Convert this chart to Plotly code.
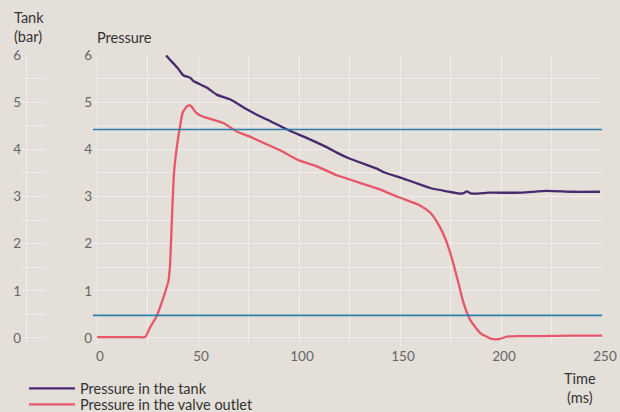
import plotly.graph_objects as go

# ---- data ----
tank_t = [34.2, 36.1, 39.8, 42.7, 46.0, 47.7, 54.3, 59.2, 65.8, 74.1, 80.7, 85.6, 94.7,
          105.4, 115.3, 118.7, 125.2, 138.5, 141.7, 151.6, 161.5, 164.9, 173.1, 179.7,
          181.5, 183.0, 185.5, 194.6, 210.0, 222.6, 235.0, 249.0]
tank_p = [5.99, 5.90, 5.73, 5.57, 5.52, 5.45, 5.31, 5.16, 5.06, 4.85, 4.70, 4.60, 4.41,
          4.21, 4.01, 3.93, 3.80, 3.59, 3.52, 3.38, 3.23, 3.18, 3.11, 3.06,
          3.07, 3.11, 3.06, 3.08, 3.08, 3.12, 3.10, 3.10]

valve_t = [0, 10, 20, 23.8, 26.2, 29.5, 32.0, 35.3, 36.1, 37.0, 38.1, 39.8, 41.1, 42.4,
           44.7, 46.0, 46.9, 49.0, 52.6, 54.3, 62.5, 69.2, 75.7, 80.7, 90.6, 99.7, 108.8,
           118.7, 125.2, 135.1, 140.1, 148.4, 156.6, 159.9, 164.9, 169.0, 172.3, 175.6,
           178.9, 181.4, 184.7, 189.6, 195.4, 199.5, 202.8, 209.4, 220.0, 235.0, 250.0]
valve_p = [0.02, 0.02, 0.02, 0.02, 0.22, 0.46, 0.75, 1.20, 1.52, 2.44, 3.50, 4.14, 4.49, 4.78,
           4.92, 4.93, 4.90, 4.78, 4.69, 4.67, 4.56, 4.38, 4.27, 4.17, 3.98, 3.77, 3.64,
           3.45, 3.36, 3.22, 3.15, 3.00, 2.87, 2.81, 2.66, 2.41, 2.12, 1.70,
           1.17, 0.75, 0.39, 0.11, -0.02, -0.02, 0.03, 0.04, 0.04, 0.05, 0.05]

limit_levels = [4.42, 0.48]
x_ticks = [0, 50, 100, 150, 200, 250]
y_ticks = [0, 1, 2, 3, 4, 5, 6]

BG = "#e4dfd9"
GRID = "#f1eeea"
PURPLE = "#4a2a6e"
RED = "#e8566a"
BLUE = "#2b7bab"
FONT = "Lato"
TXT = 14.5
TICK = 13.5

fig = go.Figure()

fig.add_trace(go.Scatter(x=tank_t, y=tank_p, mode="lines", name="Pressure in the tank",
                         legend="legend",
                         line=dict(color=PURPLE, width=2.3, shape="spline", smoothing=0.5)))
fig.add_trace(go.Scatter(x=valve_t, y=valve_p, mode="lines", name="Pressure in the valve outlet",
                         legend="legend2",
                         line=dict(color=RED, width=2.3, shape="spline", smoothing=0.5)))

for lv in limit_levels:
    fig.add_trace(go.Scatter(x=[-2, 250], y=[lv, lv], mode="lines", showlegend=False,
                             hoverinfo="skip", line=dict(color=BLUE, width=1.6)))

# dummy trace for the tank axis panel
fig.add_trace(go.Scatter(x=[None], y=[None], xaxis="x2", yaxis="y2", showlegend=False))

L, R, T, B = 20, 18, 55, 65.5
W, H = 620, 412
span = W - L - R
ph = H - T - B
main_start = (93 - L) / span
tank_dom = [(22 - L) / span, (46 - L) / span]


def leg(ypix):
    return dict(x=(24 - L) / span, y=(H - B - ypix) / ph, xanchor="left", yanchor="middle",
                orientation="v", bgcolor="rgba(0,0,0,0)",
                font=dict(size=TXT, color="#333333"), itemwidth=46)


fig.update_layout(
    width=W, height=H,
    paper_bgcolor=BG, plot_bgcolor=BG,
    margin=dict(l=L, r=R, t=T, b=B, autoexpand=False),
    font=dict(family=FONT, size=TXT, color="#333333"),
    xaxis=dict(domain=[main_start, 1], range=[-2, 250], tickvals=x_ticks,
               showgrid=True, gridcolor=GRID, gridwidth=1.4, zeroline=False,
               tickfont=dict(color="#666666", size=TICK), ticklabelshift=3,
               minor=dict(dtick=25, showgrid=True, gridcolor=GRID, gridwidth=1.4),
               showline=False, ticks=""),
    yaxis=dict(range=[-0.17, 6], tickvals=y_ticks, showgrid=True, gridcolor=GRID,
               gridwidth=1.4, zeroline=False, tickfont=dict(color="#666666", size=TICK),
               minor=dict(dtick=0.5, showgrid=True, gridcolor=GRID, gridwidth=1.4),
               ticks="", anchor="x"),
    xaxis2=dict(domain=tank_dom, range=[-1, 5], tickvals=[0], showticklabels=False,
                showgrid=True, gridcolor=GRID, gridwidth=1.4, zeroline=False, ticks="",
                anchor="y2"),
    yaxis2=dict(range=[-0.17, 6], tickvals=y_ticks, showgrid=True, gridcolor=GRID,
                gridwidth=1.4, zeroline=False, tickfont=dict(color="#666666", size=TICK),
                minor=dict(dtick=0.5, showgrid=True, gridcolor=GRID, gridwidth=1.4),
                ticks="", anchor="x2"),
    legend=leg(389),
    legend2=leg(405),
    showlegend=True,
)

fig.add_annotation(text="Tank<br>(bar)", xref="paper", yref="paper", x=-0.014, y=1.0,
                   xanchor="left", yanchor="bottom", yshift=8, showarrow=False, align="left",
                   font=dict(size=TXT, color="#333333"))
fig.add_annotation(text="Pressure", xref="paper", yref="paper", x=main_start + 0.003, y=1.0,
                   xanchor="left", yanchor="bottom", yshift=7, showarrow=False, align="left",
                   font=dict(size=TXT, color="#333333"))
fig.add_annotation(text="Time<br>(ms)", xref="paper", yref="paper", x=0.993, y=0.0,
                   xanchor="right", yanchor="top", yshift=-22, showarrow=False, align="center",
                   font=dict(size=TXT, color="#333333"))

fig.write_html("out.html", config={"displayModeBar": False},
               post_script="document.body.style.margin='0';document.body.style.overflow='hidden';")
